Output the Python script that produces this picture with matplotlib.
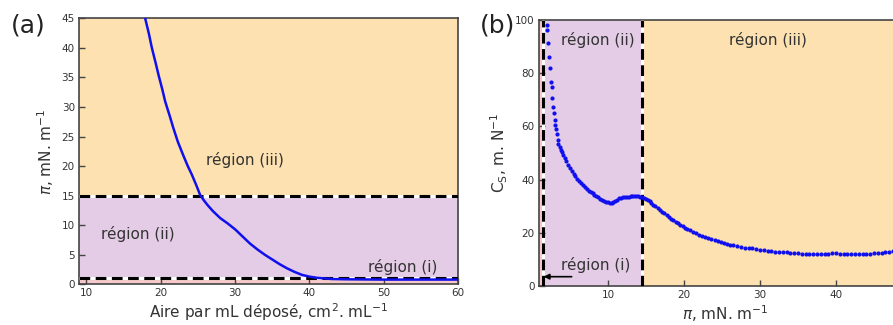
import matplotlib
matplotlib.use("Agg")
import matplotlib.pyplot as plt

# ---------------- data ----------------
# Panel (a): isotherm pi vs area per mL deposited
area_a = [17.9, 18.4, 18.8, 19.3, 19.7, 20.2, 20.6, 21.2, 21.7, 22.3, 23.0, 23.6,
          24.2, 24.8, 25.3, 25.8, 26.3, 27.0, 27.5, 28.0, 29.0, 30.0,
          31.0, 32.0, 33.0, 34.0, 35.0, 36.0, 37.0, 38.0, 39.0, 40.0, 41.0, 42.0,
          43.0, 45.0, 50.0, 55.0, 60.0]
pi_a = [45.0, 42.4, 40.0, 37.5, 35.4, 33.0, 30.9, 28.5, 26.4, 24.1, 21.9, 20.1,
        18.5, 16.7, 15.1, 14.2, 13.4, 12.4, 11.8, 11.2, 10.3, 9.3,
        8.1, 6.9, 5.9, 5.0, 4.2, 3.4, 2.7, 2.1, 1.6, 1.3, 1.1, 1.0,
        0.9, 0.85, 0.8, 0.8, 0.8]
thresholds_a = [1.0, 15.0]
xticks_a = [10, 20, 30, 40, 50, 60]
yticks_a = [0, 5, 10, 15, 20, 25, 30, 35, 40, 45]

# Panel (b): compressibility Cs vs pi
pi_b = [2.0, 2.0, 2.1, 2.25, 2.35, 2.45, 2.55, 2.65, 2.75, 2.85, 2.95, 3.05, 3.15,
        3.25, 3.35, 3.45, 3.6, 3.75, 3.9, 4.1, 4.3, 4.5, 4.75, 5.0, 5.2, 5.45, 5.7,
        5.95, 6.2, 6.45, 6.7, 6.95, 7.2, 7.45, 7.7, 7.95, 8.2, 8.45, 8.7, 8.95, 9.2,
        9.45, 9.7, 9.95, 10.2, 10.45, 10.7, 10.95, 11.2, 11.45, 11.7, 11.95, 12.2,
        12.45, 12.7, 12.95, 13.2, 13.45, 13.7, 13.95, 14.2, 14.45, 14.7, 14.95,
        15.2, 15.45, 15.7, 15.95, 16.2, 16.5, 16.8, 17.1, 17.4, 17.7, 18.0, 18.3,
        18.6, 18.9, 19.2, 19.5, 19.8, 20.1, 20.4, 20.8, 21.2, 21.6, 22.0, 22.4,
        22.8, 23.2, 23.6, 24.0, 24.4, 24.8, 25.2, 25.6, 26.0, 26.5, 27.0, 27.5,
        28.0, 28.5, 29.0, 29.5, 30.0, 30.5, 31.0, 31.5, 32.0, 32.5, 33.0, 33.5,
        34.0, 34.5, 35.0, 35.5, 36.0, 36.5, 37.0, 37.5, 38.0, 38.5, 39.0, 39.5,
        40.0, 40.5, 41.0, 41.5, 42.0, 42.5, 43.0, 43.5, 44.0, 44.5, 45.0, 45.5,
        46.0, 46.5, 47.0, 47.5]
cs_b = [98.0, 96.2, 91.2, 86.2, 81.8, 76.8, 74.9, 70.6, 67.4, 64.9, 62.5, 60.5, 59.0,
        57.0, 55.0, 53.5, 52.3, 51.3, 50.4, 49.2, 48.0, 47.0, 45.5, 44.2, 43.3, 42.2,
        41.2, 40.3, 39.5, 38.7, 38.0, 37.3, 36.6, 35.9, 35.4, 34.8, 34.2, 33.8, 33.3,
        32.8, 32.4, 32.1, 31.7, 31.4, 31.2, 31.1, 31.4, 31.9, 32.5, 32.9, 33.2, 33.4,
        33.5, 33.4, 33.5, 33.7, 33.8, 33.9, 34.0, 33.8, 33.5, 33.3, 33.0, 32.7, 32.3,
        31.8, 31.2, 30.6, 30.0, 29.3, 28.6, 28.0, 27.3, 26.6, 25.9, 25.3, 24.7, 24.1,
        23.5, 22.9, 22.4, 21.9, 21.4, 20.9, 20.3, 19.8, 19.3, 18.9, 18.4, 18.0, 17.6,
        17.2, 16.9, 16.5, 16.2, 15.9, 15.6, 15.3, 15.0, 14.6, 14.3, 14.4, 14.2, 14.0,
        13.7, 13.5, 13.3, 13.1, 12.9, 12.8, 12.7, 12.6, 12.5, 12.4, 12.3, 12.2, 12.1,
        12.0, 11.9, 12.0, 12.0, 12.1, 12.2, 12.3, 12.3, 12.2, 12.1, 12.1, 12.0, 12.0,
        12.0, 12.0, 12.1, 12.2, 12.3, 12.3, 12.5, 12.7, 12.9, 13.0]
thresholds_b = [1.4, 14.5]
xticks_b = [10, 20, 30, 40]
yticks_b = [0, 20, 40, 60, 80, 100]

# ---------------- style ----------------
C_ORANGE = "#FDE1B0"
C_PURPLE = "#E4CCE6"
C_PINK = "#F5C9C9"
C_TXT = "#333333"
plt.rcParams["font.family"] = ["DejaVu Sans"]
plt.rcParams["mathtext.fontset"] = "dejavusans"

fig = plt.figure(figsize=(8.93, 3.25), dpi=100)
axa = fig.add_axes([0.0885, 0.1252, 0.4244, 0.8185])
axb = fig.add_axes([0.6036, 0.12, 0.4177, 0.8185])


def style(ax):
    for s in ax.spines.values():
        s.set_color("#444444")
        s.set_linewidth(1.2)
    ax.tick_params(direction="in", length=4, width=1, colors="#444444",
                   labelcolor=C_TXT, labelsize=7.5, pad=3)


def dashed_h(ax, y):
    ax.axhline(y, color="white", lw=2.2, zorder=3)
    ax.axhline(y, color="black", lw=2.2, dashes=(3.5, 1.8), zorder=4)


def dashed_v(ax, x):
    ax.axvline(x, color="white", lw=2.2, zorder=3)
    ax.axvline(x, color="black", lw=2.2, dashes=(3.5, 1.8), zorder=4)


# ---- panel (a) ----
xa0, xa1 = 9, 60
ya0, ya1 = 0, 45
axa.set_xlim(xa0, xa1)
axa.set_ylim(ya0, ya1)
axa.axhspan(ya0, thresholds_a[0], color=C_PINK, zorder=0, lw=0)
axa.axhspan(thresholds_a[0], thresholds_a[1], color=C_PURPLE, zorder=0, lw=0)
axa.axhspan(thresholds_a[1], ya1, color=C_ORANGE, zorder=0, lw=0)
for t in thresholds_a:
    dashed_h(axa, t)
axa.plot(area_a, pi_a, color="#1010ee", lw=1.8, zorder=5)
axa.set_xticks(xticks_a)
axa.set_yticks(yticks_a)
style(axa)
axa.set_xlabel("Aire par mL déposé, cm$^{2}$. mL$^{-1}$", fontsize=11, color=C_TXT, labelpad=2)
axa.set_ylabel("$\\pi$, mN. m$^{-1}$", fontsize=11, color=C_TXT, labelpad=4)
axa.text(31.3, 21.0, "région (iii)", fontsize=11, color=C_TXT, ha="center", va="center", zorder=6)
axa.text(16.9, 8.5, "région (ii)", fontsize=11, color=C_TXT, ha="center", va="center", zorder=6)
axa.text(52.6, 3.0, "région (i)", fontsize=11, color=C_TXT, ha="center", va="center", zorder=6)
fig.text(0.012, 0.92, "(a)", fontsize=18, color="#222222", ha="left", va="center")

# ---- panel (b) ----
xb0, xb1 = 0.9, 50
yb0, yb1 = 0, 100
axb.set_xlim(xb0, xb1)
axb.set_ylim(yb0, yb1)
axb.axvspan(xb0, thresholds_b[0], color=C_PINK, zorder=0, lw=0)
axb.axvspan(thresholds_b[0], thresholds_b[1], color=C_PURPLE, zorder=0, lw=0)
axb.axvspan(thresholds_b[1], xb1, color=C_ORANGE, zorder=0, lw=0)
for t in thresholds_b:
    dashed_v(axb, t)
axb.plot(pi_b, cs_b, "o", color="#1010ee", ms=3.0, mew=0, zorder=5)
axb.set_xticks(xticks_b)
axb.set_yticks(yticks_b)
style(axb)
axb.set_xlabel("$\\pi$, mN. m$^{-1}$", fontsize=11, color=C_TXT, labelpad=2)
axb.set_ylabel("C$_{\\mathrm{S}}$, m. N$^{-1}$", fontsize=11, color=C_TXT, labelpad=4)
axb.text(8.7, 92.5, "région (ii)", fontsize=11, color=C_TXT, ha="center", va="center", zorder=6)
axb.text(31.0, 92.5, "région (iii)", fontsize=11, color=C_TXT, ha="center", va="center", zorder=6)
axb.text(8.3, 8.0, "région (i)", fontsize=11, color=C_TXT, ha="center", va="center", zorder=6)
axb.annotate("", xy=(1.5, 3.5), xytext=(5.2, 3.5),
             arrowprops=dict(arrowstyle="-|>", color="black", lw=1.2,
                             mutation_scale=8, shrinkA=0, shrinkB=0), zorder=7)
fig.text(0.537, 0.92, "(b)", fontsize=18, color="#222222", ha="left", va="center")

fig.savefig("out.png", dpi=100)
